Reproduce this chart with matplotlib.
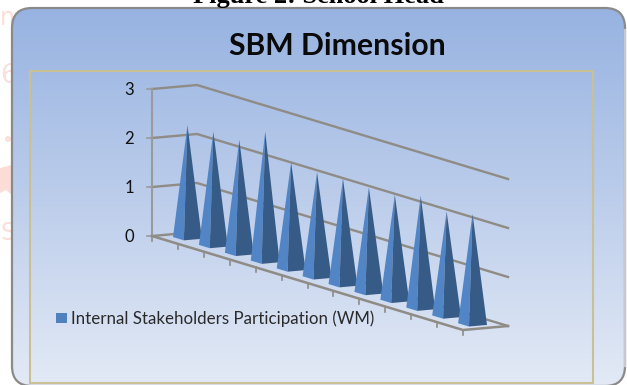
import matplotlib
matplotlib.use("Agg")
import matplotlib.pyplot as plt
import numpy as np
from matplotlib.colors import LinearSegmentedColormap
from matplotlib.patches import Circle, FancyBboxPatch, Polygon, Rectangle

# weighted means, one per survey item
values = [2.3, 2.33, 2.32, 2.65, 2.18, 2.14, 2.17, 2.15, 2.16, 2.3, 2.14, 2.25]
y_ticks = [0, 1, 2, 3]
title = "SBM Dimension"
caption = "Figure 2: School Head"
series_name = "Internal Stakeholders Participation (WM)"

# oblique projection of the 3-D chart box, in pixels
ORIGIN = np.array([152.0, 236.0])
CAT_VEC = np.array([311.0, 94.0])
DEPTH_VEC = np.array([45.0, -4.0])
UNIT_PX = 49.0
BAR_W = 0.42
BAR_D = 0.40

GRID = "#8f8b85"
FACE_LIGHT = "#5185c6"
FACE_DARK = "#365b87"
WATERMARK = "#fbdfda"


def project(cat, depth=0.0, value=0.0):
    """Map category position, depth (0-1) and value to pixel coordinates."""
    pt = ORIGIN + CAT_VEC * cat / len(values) + DEPTH_VEC * depth
    return pt[0], pt[1] - value * UNIT_PX


def draw_frame(ax):
    bg = LinearSegmentedColormap.from_list(
        "bg", ["#97b3e1", "#bccdeb", "#e3eaf6"]
    )
    grad = np.linspace(0, 1, 256).reshape(-1, 1)
    img = ax.imshow(grad, cmap=bg, extent=(12, 625, 386, 8), aspect="auto", zorder=1)
    box = FancyBboxPatch(
        (12, 8), 613, 378,
        boxstyle="round,pad=0,rounding_size=20",
        facecolor="none", edgecolor="#8a8a8a", linewidth=1.6, zorder=2,
    )
    ax.add_patch(box)
    img.set_clip_path(box)
    # right edge of the frame catches the light
    ax.plot([625, 625], [30, 366], color="#c6c9d0", lw=1.6, zorder=2)
    ax.add_patch(
        Rectangle((30, 71), 563, 312, fill=False, edgecolor="#c9c095", linewidth=1.5, zorder=2)
    )


def draw_box(ax):
    n = len(values)
    for tick in y_ticks:
        corners = [project(0, 0, tick), project(0, 1, tick), project(n, 1, tick)]
        ax.plot(*zip(*corners), color=GRID, lw=1.7, zorder=3)
        x0, y0 = project(0, 0, tick)
        ax.plot([x0 - 5, x0], [y0, y0], color="#9a9a9a", lw=1.2, zorder=3)
        ax.text(x0 - 18, y0 + 1, str(tick), ha="right", va="center", fontsize=12,
                color="#111111", family="Lato", zorder=6)

    ax.plot(*zip(project(0, 0, 0), project(0, 0, y_ticks[-1])), color="#9a9a9a", lw=1.5, zorder=3)
    ax.plot(*zip(project(0, 0, 0), project(n, 0, 0), project(n, 1, 0)), color=GRID, lw=1.8, zorder=3)
    for i in range(n + 1):
        x, y = project(i)
        ax.plot([x, x], [y, y + 5], color=GRID, lw=1.2, zorder=3)


def draw_pyramids(ax):
    for i, value in enumerate(values):
        c = i + 0.5
        left = project(c - BAR_W / 2, 0.5 - BAR_D / 2)
        front = project(c + BAR_W / 2, 0.5 - BAR_D / 2)
        right = project(c + BAR_W / 2, 0.5 + BAR_D / 2)
        apex = project(c, 0.5, value)
        z = 4 + i * 0.01
        ax.add_patch(Polygon([left, front, apex], facecolor=FACE_LIGHT, edgecolor="none", zorder=z))
        ax.add_patch(Polygon([front, right, apex], facecolor=FACE_DARK, edgecolor="none", zorder=z))


def draw_text(ax):
    ax.text(337, 46, title, ha="center", va="center", fontsize=21.7,
            fontweight="bold", family="Lato", color="#0a0a0a", zorder=6)
    ax.text(318, 2.5, caption, ha="center", va="baseline", fontsize=19,
            fontweight="bold", family="Liberation Serif", color="black", zorder=6)
    ax.add_patch(Rectangle((56, 313), 11, 10, facecolor="#4f81bd", edgecolor="none", zorder=6))
    ax.text(71, 319, series_name, ha="left", va="center", fontsize=12.15,
            family="Lato", color="#2a2a2a", zorder=6)

    # faint page watermark around the chart
    ax.text(0, 76, "6", ha="left", va="center", fontsize=19, color=WATERMARK, zorder=0)
    ax.text(0, 18, "n", ha="left", va="center", fontsize=17, color=WATERMARK, zorder=0)
    ax.text(0, 233, "S", ha="left", va="center", fontsize=17, color=WATERMARK, zorder=0)
    ax.add_patch(Circle((8, 139), 3, facecolor=WATERMARK, edgecolor="none", zorder=0))
    ax.add_patch(Polygon([(0, 168), (12, 165), (12, 195), (6, 190), (0, 193)],
                         facecolor="#fbdcd6", edgecolor="none", zorder=0))


fig = plt.figure(figsize=(6.27, 3.85), dpi=100)
ax = fig.add_axes([0, 0, 1, 1])
ax.set_xlim(0, 627)
ax.set_ylim(385, 0)
ax.axis("off")

draw_frame(ax)
draw_box(ax)
draw_pyramids(ax)
draw_text(ax)
ax.set_xlim(0, 627)
ax.set_ylim(385, 0)

fig.savefig("out.png", dpi=100)
